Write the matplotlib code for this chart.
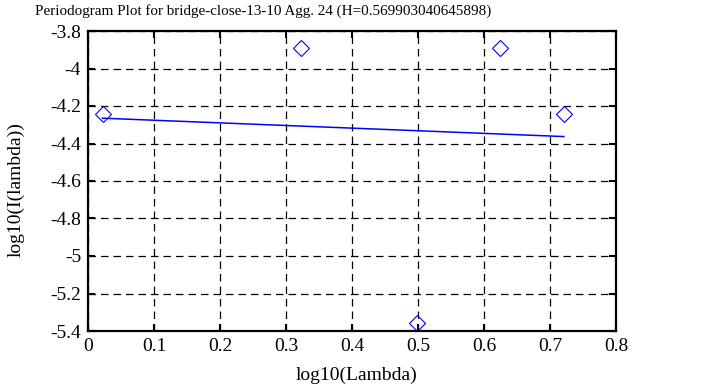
import matplotlib
matplotlib.use("Agg")
import matplotlib.pyplot as plt

plt.rcParams["font.family"] = ["Liberation Serif", "DejaVu Serif"]

# periodogram points (log10 frequency, log10 power)
log_lambda = [0.022, 0.323, 0.499, 0.624, 0.721]
log_power = [-4.243, -3.890, -5.356, -3.890, -4.243]

# least-squares fit line end points
fit_x = [0.022, 0.721]
fit_y = [-4.265, -4.363]

title = "Periodogram Plot for bridge-close-13-10 Agg. 24 (H=0.569903040645898)"

fig = plt.figure(figsize=(7.05, 3.87), dpi=100)
ax = fig.add_axes([88 / 705, 56 / 387, 528 / 705, 300 / 387])

ax.plot(fit_x, fit_y, color="blue", lw=1.1)
ax.plot(log_lambda, log_power, linestyle="none", marker="D", markersize=8,
        markerfacecolor="none", markeredgecolor="blue", markeredgewidth=0.8,
        clip_on=False)

ax.set_xlim(0, 0.8)
ax.set_ylim(-5.4, -3.8)
ax.set_xticks([0, 0.1, 0.2, 0.3, 0.4, 0.5, 0.6, 0.7, 0.8])
ax.set_xticklabels(["0", "0.1", "0.2", "0.3", "0.4", "0.5", "0.6", "0.7", "0.8"])
ax.set_yticks([-5.4, -5.2, -5.0, -4.8, -4.6, -4.4, -4.2, -4.0, -3.8])
ax.set_yticklabels(["-5.4", "-5.2", "-5", "-4.8", "-4.6", "-4.4", "-4.2", "-4", "-3.8"])

ax.grid(True, color="black", linestyle=(0, (6, 4)), linewidth=0.9)
ax.tick_params(direction="in", length=5, width=1.5, top=True, right=True,
               labelsize=14, pad=5)
for s in ax.spines.values():
    s.set_linewidth(1.6)

ax.set_xlabel("log10(Lambda)", fontsize=14, va="center")
ax.xaxis.set_label_coords(0.508, -0.147)
ax.set_ylabel("log10(I(lambda))", fontsize=14, va="center")
ax.yaxis.set_label_coords(-0.136, 0.473)

fig.text(263 / 705, 1 - 11 / 387, title, ha="center", va="center", fontsize=10.9)

fig.savefig("out.png", dpi=100)
